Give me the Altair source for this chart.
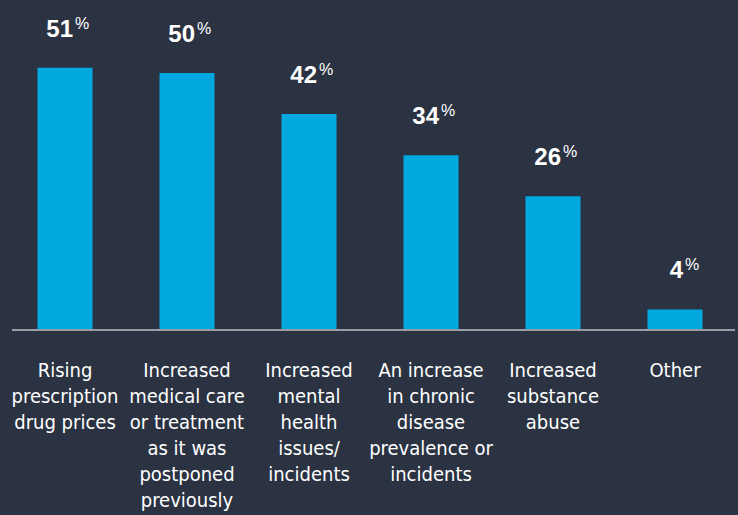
import altair as alt
import pandas as pd

categories = [
    "Rising|prescription|drug prices",
    "Increased|medical care|or treatment|as it was|postponed|previously",
    "Increased|mental|health|issues/|incidents",
    "An increase|in chronic|disease|prevalence or|incidents",
    "Increased|substance|abuse",
    "Other",
]
values = [51, 50, 42, 34, 26, 4]

df = pd.DataFrame({"category": categories, "value": values})

BG = "#2b3342"
BAR = "#00a8e0"
FONT = "Liberation Sans"
NARROW = "Liberation Sans Narrow, DejaVu Sans Condensed, Roboto, sans-serif"

x = alt.X(
    "category:N",
    sort=categories,
    scale=alt.Scale(paddingInner=0.549, paddingOuter=0.2745),
    axis=alt.Axis(
        title=None,
        domain=False,
        ticks=False,
        labelAngle=0,
        labelExpr="split(datum.label, '|')",
        labelFont=NARROW,
        labelFontSize=20,
        labelColor="#ffffff",
        labelLineHeight=26,
        labelPadding=30,
        labelAlign="center",
        labelBaseline="top",
    ),
)
y = alt.Y(
    "value:Q",
    scale=alt.Scale(domain=[0, 64.2], nice=False, zero=True),
    axis=None,
)

base = alt.Chart(df)

bars = base.mark_bar(color=BAR, size=55).encode(x=x, y=y)

nums = base.mark_text(
    align="right", baseline="alphabetic", dx=8, dy=-31,
    font=FONT, fontSize=24, fontWeight="bold", color="#ffffff",
).encode(x=x, y=y, text=alt.Text("value:Q"))

pct = base.mark_text(
    align="left", baseline="alphabetic", dx=10, dy=-39,
    font=FONT, fontSize=16, color="#ffffff",
).encode(x=x, y=y, text=alt.value("%"))

rule = alt.Chart(pd.DataFrame({"v": [0]})).mark_rule(
    color="#9a9ca3", strokeWidth=2
).encode(x=alt.value(8), x2=alt.value(731), y=alt.Y("v:Q", scale=alt.Scale(domain=[0, 64.2], nice=False), axis=None))

chart = (
    alt.layer(bars, rule, nums, pct)
    .properties(
        width=732,
        height=330,
        background=BG,
        padding={"left": 4, "top": 0, "right": 2, "bottom": 185},
        autosize=alt.AutoSizeParams(type="none"),
    )
    .configure_view(stroke=None)
)

chart.save("out.html", embed_options={"renderer": "svg", "actions": False})
